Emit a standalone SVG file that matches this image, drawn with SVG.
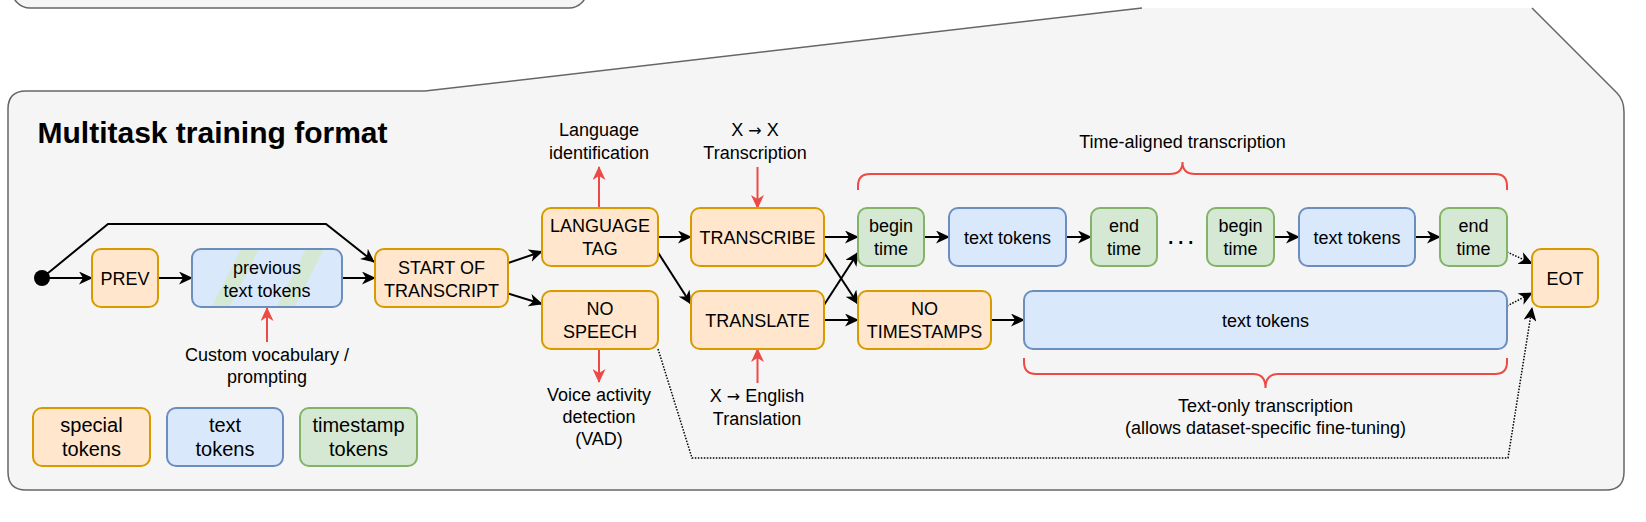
<svg xmlns="http://www.w3.org/2000/svg" width="1646" height="522" viewBox="0 0 1646 522">
<style>
text{font-family:"Liberation Sans",Arial,Helvetica,sans-serif;fill:#000;text-anchor:middle}
.t{font-size:18px}
.lg{font-size:20px}
.ar{font-family:"DejaVu Sans",sans-serif;font-size:16px}
.sp{fill:#ffe6cc;stroke:#d79b00;stroke-width:2}
.tx{fill:#dae8fc;stroke:#6c8ebf;stroke-width:2}
.ts{fill:#d5e8d4;stroke:#82b366;stroke-width:2}
.c{fill:none;stroke:#000;stroke-width:2;marker-end:url(#ab)}
.d{fill:none;stroke:#000;stroke-width:1.5;stroke-dasharray:1.5 1.5;marker-end:url(#ab)}
.r{fill:none;stroke:#ec4a45;stroke-width:2;marker-end:url(#ar)}
.br{fill:none;stroke:#ec4a45;stroke-width:2}
</style>
<defs>
<marker id="ab" viewBox="0 0 14 13" refX="13" refY="6.5" markerWidth="14" markerHeight="13" orient="auto" markerUnits="userSpaceOnUse"><path d="M0,0 L14,6.5 L0,13 L4,6.5 Z" fill="#000"/></marker>
<marker id="ar" viewBox="0 0 14 13" refX="13" refY="6.5" markerWidth="14" markerHeight="13" orient="auto" markerUnits="userSpaceOnUse"><path d="M0,0 L14,6.5 L0,13 L4,6.5 Z" fill="#ec4a45"/></marker>
<clipPath id="pc"><rect x="192" y="249" width="150" height="58" rx="9"/></clipPath>
</defs>
<g id="top-box"><rect x="12" y="-40" width="575" height="48" rx="18" fill="#f5f5f5" stroke="#666" stroke-width="1.5"/></g>
<g id="panel">
<path d="M26,91 L425,91 L1142,8 L1532,8 L1617,93 Q1624,100 1624,112 L1624,472 Q1624,490 1606,490 L26,490 Q8,490 8,472 L8,109 Q8,91 26,91 Z" fill="#f5f5f5"/>
<path d="M1532,8 L1617,93 Q1624,100 1624,112 L1624,472 Q1624,490 1606,490 L26,490 Q8,490 8,472 L8,109 Q8,91 26,91 L425,91 L1142,8" fill="none" stroke="#666" stroke-width="1.5"/>
<text x="37.5" y="142.5" style="font-size:30px;font-weight:bold;text-anchor:start">Multitask training format</text>
</g>
<g id="connectors">
<path class="c" d="M42,278 L92,278"/>
<path class="c" d="M158,278 L192,278"/>
<path class="c" d="M342,278 L375,278"/>
<path class="c" d="M42,278 L108,224 L326,224 L374,262"/>
<path class="c" d="M508,263 L542,251.5"/>
<path class="c" d="M508,293.5 L542,304"/>
<path class="c" d="M658,237 L691,237"/>
<path class="c" d="M658,252.5 L691,304"/>
<path class="c" d="M824,237 L858,237"/>
<path class="c" d="M824,252.5 L858,304"/>
<path class="c" d="M824,305 L858,252.5"/>
<path class="c" d="M824,320 L858,320"/>
<path class="c" d="M991,320 L1024,320"/>
<path class="c" d="M924,237 L949,237"/>
<path class="c" d="M1066,237 L1091,237"/>
<path class="c" d="M1274,237 L1299,237"/>
<path class="c" d="M1415,237 L1440,237"/>
<path class="d" d="M1507,252 L1532,263.5"/>
<path class="d" d="M1507,306 L1532,293"/>
<path class="d" d="M658,349 L692,458 L1508,458 L1532,308"/>
<path class="r" d="M599,208 L599,167"/>
<path class="r" d="M757.5,167 L757.5,208"/>
<path class="r" d="M599,349 L599,382"/>
<path class="r" d="M757.5,383 L757.5,349"/>
<path class="r" d="M267,342 L267,308"/>
<path class="br" d="M858,190 L858,186 Q858,174 870,174 L1170,174 Q1182.5,174 1182.5,162 Q1182.5,174 1195,174 L1495,174 Q1507,174 1507,186 L1507,190"/>
<path class="br" d="M1024,358 L1024,362 Q1024,374 1036,374 L1253,374 Q1265.5,374 1265.5,388 Q1265.5,374 1278,374 L1495,374 Q1507,374 1507,362 L1507,358"/>
</g>
<g id="start"><circle cx="42" cy="278" r="8" fill="#000"/></g>
<g id="prev"><rect class="sp" x="92" y="249" width="66" height="58" rx="9"/><text class="t" x="125" y="284.5">PREV</text></g>
<g id="previous-text">
<rect x="192" y="249" width="150" height="58" rx="9" fill="#dae8fc"/>
<g clip-path="url(#pc)" fill="#d5e8d4"><polygon points="211,308 229,308 259,249 241,249"/><polygon points="276,308 294,308 324,249 306,249"/></g>
<rect x="192" y="249" width="150" height="58" rx="9" fill="none" stroke="#6c8ebf" stroke-width="2"/>
<text class="t" x="267" y="273.5">previous</text><text class="t" x="267" y="296.5">text tokens</text></g>
<g id="sot"><rect class="sp" x="375" y="249" width="133" height="58" rx="9"/><text class="t" x="441.5" y="273.5">START OF</text><text class="t" x="441.5" y="296.5">TRANSCRIPT</text></g>
<g id="lang"><rect class="sp" x="542" y="208" width="116" height="58" rx="9"/><text class="t" x="600" y="232">LANGUAGE</text><text class="t" x="600" y="255">TAG</text></g>
<g id="nospeech"><rect class="sp" x="542" y="291" width="116" height="58" rx="9"/><text class="t" x="600" y="315">NO</text><text class="t" x="600" y="338">SPEECH</text></g>
<g id="transcribe"><rect class="sp" x="691" y="208" width="133" height="58" rx="9"/><text class="t" x="757.5" y="243.5">TRANSCRIBE</text></g>
<g id="translate"><rect class="sp" x="691" y="291" width="133" height="58" rx="9"/><text class="t" x="757.5" y="326.5">TRANSLATE</text></g>
<g id="begin1"><rect class="ts" x="858" y="208" width="66" height="58" rx="9"/><text class="t" x="891" y="232">begin</text><text class="t" x="891" y="255">time</text></g>
<g id="text1"><rect class="tx" x="949" y="208" width="117" height="58" rx="9"/><text class="t" x="1007.5" y="243.5">text tokens</text></g>
<g id="end1"><rect class="ts" x="1091" y="208" width="66" height="58" rx="9"/><text class="t" x="1124" y="232">end</text><text class="t" x="1124" y="255">time</text></g>
<g id="ellipsis"><text x="1182" y="243.5" style="font-size:27px;letter-spacing:2.5px">...</text></g>
<g id="begin2"><rect class="ts" x="1207" y="208" width="67" height="58" rx="9"/><text class="t" x="1240.5" y="232">begin</text><text class="t" x="1240.5" y="255">time</text></g>
<g id="text2"><rect class="tx" x="1299" y="208" width="116" height="58" rx="9"/><text class="t" x="1357" y="243.5">text tokens</text></g>
<g id="end2"><rect class="ts" x="1440" y="208" width="67" height="58" rx="9"/><text class="t" x="1473.5" y="232">end</text><text class="t" x="1473.5" y="255">time</text></g>
<g id="notimestamps"><rect class="sp" x="858" y="291" width="133" height="58" rx="9"/><text class="t" x="924.5" y="315">NO</text><text class="t" x="924.5" y="338">TIMESTAMPS</text></g>
<g id="text-big"><rect class="tx" x="1024" y="291" width="483" height="58" rx="9"/><text class="t" x="1265.5" y="326.5">text tokens</text></g>
<g id="eot"><rect class="sp" x="1532" y="249" width="66" height="58" rx="9"/><text class="t" x="1565" y="285">EOT</text></g>
<g id="labels">
<text class="t" x="599" y="136">Language</text><text class="t" x="599" y="159">identification</text>
<text class="t" x="755" y="136">X <tspan class="ar">→</tspan> X</text><text class="t" x="755" y="159">Transcription</text>
<text class="t" x="599" y="401">Voice activity</text><text class="t" x="599" y="423">detection</text><text class="t" x="599" y="445">(VAD)</text>
<text class="t" x="757" y="402">X <tspan class="ar">→</tspan> English</text><text class="t" x="757" y="425">Translation</text>
<text class="t" x="267" y="361">Custom vocabulary /</text><text class="t" x="267" y="383">prompting</text>
<text class="t" x="1182.5" y="148">Time-aligned transcription</text>
<text class="t" x="1265.5" y="411.5">Text-only transcription</text><text class="t" x="1265.5" y="433.5">(allows dataset-specific fine-tuning)</text>
</g>
<g id="legend">
<g id="legend-special"><rect class="sp" x="33" y="408" width="117" height="58" rx="9"/><text class="lg" x="91.5" y="431.5">special</text><text class="lg" x="91.5" y="455.5">tokens</text></g>
<g id="legend-text"><rect class="tx" x="167" y="408" width="116" height="58" rx="9"/><text class="lg" x="225" y="431.5">text</text><text class="lg" x="225" y="455.5">tokens</text></g>
<g id="legend-timestamp"><rect class="ts" x="300" y="408" width="117" height="58" rx="9"/><text class="lg" x="358.5" y="431.5">timestamp</text><text class="lg" x="358.5" y="455.5">tokens</text></g>
</g>
</svg>
